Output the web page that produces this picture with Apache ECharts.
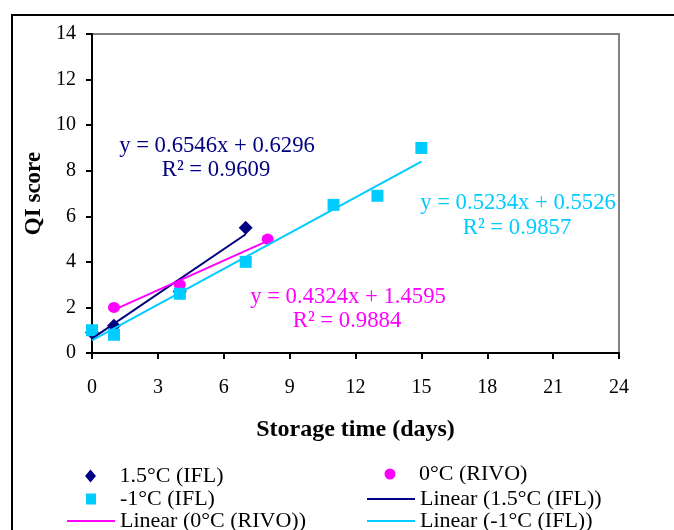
<!DOCTYPE html>
<html>
<head>
<meta charset="utf-8">
<script src="https://cdn.jsdelivr.net/npm/echarts@6/dist/echarts.min.js"></script>
<style>
  html, body { margin: 0; padding: 0; background: #fff; }
  #chart { width: 674px; height: 530px; }
</style>
</head>
<body>
<div id="chart"></div>
<script>
// ---- Data ----
const seriesNames = ['1.5°C (IFL)', '0°C (RIVO)', '-1°C (IFL)'];
const trendNames = ['Linear (1.5°C (IFL))', 'Linear (0°C (RIVO))', 'Linear (-1°C (IFL))'];

const daysIFL15 = [0, 1, 4, 7];
const qiIFL15   = [0.9, 1.2, 2.7, 5.5];

const daysRIVO0 = [1, 4, 8];
const qiRIVO0   = [2.0, 3.0, 5.0];

const daysIFLm1 = [0, 1, 4, 7, 11, 13, 15];
const qiIFLm1   = [1.0, 0.8, 2.6, 4.0, 6.5, 6.9, 9.0];

// Trendline equations as printed on the chart
const trendSlope     = [0.6546, 0.4324, 0.5234];
const trendIntercept = [0.6296, 1.4595, 0.5526];
const trendR2        = ['0.9609', '0.9884', '0.9857'];
const trendXRange    = [[0, 7], [1, 8], [0, 15]];

const xTicks = { min: 0, max: 24, interval: 3 };
const yTicks = { min: 0, max: 14, interval: 2 };

// ---- Styles ----
const NAVY = '#000080', MAGENTA = '#FF00FF', CYAN = '#00CCFF';
const FONT = '"Liberation Serif", "Times New Roman", serif';
const EQ_FONT = '22.7px ' + FONT;

function zip(xs, ys) { return xs.map((x, i) => [x, ys[i]]); }
function trendData(i) {
  return trendXRange[i].map(x => [x, trendSlope[i] * x + trendIntercept[i]]);
}
function eqText(i) {
  return 'y = ' + trendSlope[i].toFixed(4) + 'x + ' + trendIntercept[i].toFixed(4);
}

const chart = echarts.init(document.getElementById('chart'), null, { renderer: 'canvas' });

const legendText = { fontFamily: FONT, fontSize: 22, color: '#000', lineHeight: 22 };
function legend(name, icon, left, top, itemHeight) {
  return {
    data: [{ name: name, icon: icon }],
    left: left, top: top, itemWidth: 48, itemHeight: itemHeight,
    padding: 0, selectedMode: false, symbolKeepAspect: true,
    textStyle: legendText
  };
}
function eqLabel(text, x, y, color) {
  return { type: 'text', x: x, y: y, style: { text: text, fill: color, font: EQ_FONT, textAlign: 'center', textVerticalAlign: 'middle' } };
}

const option = {
  animation: false,
  backgroundColor: '#fff',
  grid: { left: 92, top: 34, width: 527, height: 319, show: true, borderColor: '#808080', borderWidth: 2, backgroundColor: 'transparent' },
  xAxis: {
    type: 'value', min: xTicks.min, max: xTicks.max, interval: xTicks.interval,
    name: 'Storage time (days)', nameLocation: 'middle', nameGap: 65,
    nameTextStyle: { fontFamily: FONT, fontSize: 24, fontWeight: 'bold', color: '#000' },
    axisLine: { lineStyle: { color: '#000', width: 2 } },
    axisTick: { show: true, inside: false, length: 6, lineStyle: { color: '#000', width: 2 } },
    axisLabel: { margin: 25, fontFamily: FONT, fontSize: 20, color: '#000' },
    splitLine: { show: false }
  },
  yAxis: {
    type: 'value', min: yTicks.min, max: yTicks.max, interval: yTicks.interval,
    name: 'QI score', nameLocation: 'middle', nameGap: 41,
    nameTextStyle: { fontFamily: FONT, fontSize: 23, fontWeight: 'bold', color: '#000' },
    axisLine: { show: true, lineStyle: { color: '#000', width: 2 } },
    axisTick: { show: true, inside: false, length: 6, lineStyle: { color: '#000', width: 2 } },
    axisLabel: { margin: 16, fontFamily: FONT, fontSize: 20, color: '#000' },
    splitLine: { show: false }
  },
  legend: [
    legend(seriesNames[0], 'path://M6,0 L11.5,6.5 L6,13 L0.5,6.5 Z', 85, 465, 13),
    legend(seriesNames[2], 'path://M0,0 L10,0 L10,11 L0,11 Z', 86, 488, 11),
    legend(trendNames[1], 'rect', 67, 510, 2),
    legend(seriesNames[1], 'path://M5.5,0 A5.5,5.5 0 1 1 5.5,11 A5.5,5.5 0 1 1 5.5,0 Z', 384.5, 463, 11),
    legend(trendNames[0], 'rect', 367, 488, 2),
    legend(trendNames[2], 'rect', 367, 510, 2)
  ],
  graphic: [
    { type: 'rect', shape: { x: 12, y: 15, width: 800, height: 700 }, style: { fill: 'none', stroke: '#000', lineWidth: 2 }, z: -10, silent: true },
    eqLabel(eqText(0), 217, 146, NAVY),
    eqLabel('R² = ' + trendR2[0], 216, 170, NAVY),
    eqLabel(eqText(1), 348, 297, MAGENTA),
    eqLabel('R² = ' + trendR2[1], 347, 321, MAGENTA),
    eqLabel(eqText(2), 518, 203, CYAN),
    eqLabel('R² = ' + trendR2[2], 517, 228, CYAN)
  ],
  series: [
    { name: seriesNames[0], type: 'scatter', data: zip(daysIFL15, qiIFL15), symbol: 'diamond', symbolSize: [14, 14], itemStyle: { color: NAVY, opacity: 1 }, z: 2 },
    { name: seriesNames[1], type: 'scatter', data: zip(daysRIVO0, qiRIVO0), symbol: 'circle', symbolSize: [12, 11], itemStyle: { color: MAGENTA, opacity: 1 }, z: 2 },
    { name: seriesNames[2], type: 'scatter', data: zip(daysIFLm1, qiIFLm1), symbol: 'rect', symbolSize: 12, itemStyle: { color: CYAN, opacity: 1 }, z: 2 },
    { name: trendNames[0], type: 'line', data: trendData(0), showSymbol: false, symbol: 'none', lineStyle: { color: NAVY, width: 2 }, itemStyle: { color: NAVY }, z: 3 },
    { name: trendNames[1], type: 'line', data: trendData(1), showSymbol: false, symbol: 'none', lineStyle: { color: MAGENTA, width: 2 }, itemStyle: { color: MAGENTA }, z: 3 },
    { name: trendNames[2], type: 'line', data: trendData(2), showSymbol: false, symbol: 'none', lineStyle: { color: CYAN, width: 2 }, itemStyle: { color: CYAN }, z: 3 }
  ]
};
chart.setOption(option);
</script>
</body>
</html>
